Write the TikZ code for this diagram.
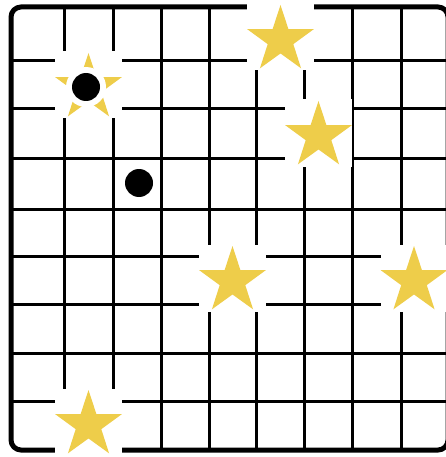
\documentclass[tikz,border=0pt]{standalone}
\usetikzlibrary{shapes.geometric}
\definecolor{StarGold}{HTML}{EECD4A}
\tikzset{
    % Grid lines
    gridline/.style={
        line width=3pt,
        draw=black
    },
    % Outer frame
    frameline/.style={
        line width=5pt,
        draw=black,
        rounded corners=10pt
    },
    % White patch behind each star
    starpatch/.style={
        rectangle,
        fill=white,
        minimum size=67pt,
        inner sep=0pt
    },
    % Gold star
    goldstar/.style={
        star,
        star points=5,
        star point ratio=2.6,
        fill=StarGold,
        minimum size=70pt,
        inner sep=0pt
    },
    % White ring round a dot
    halo/.style={
        circle,
        fill=white,
        minimum size=40pt,
        inner sep=0pt
    },
    % Black dot
    marker/.style={
        circle,
        fill=black,
        minimum size=28pt,
        inner sep=0pt
    }
}
\begin{document}
\begin{tikzpicture}[x=1pt, y=-1pt]
    \useasboundingbox (0,0) rectangle (446,457);

    % Grid
    \foreach \gx in {64,113,161,209,256,304,352,401}
        \draw[gridline] (\gx,7) -- (\gx,450);
    \foreach \gy in {61,109,159,209,256,304,353,401}
        \draw[gridline] (12,\gy) -- (447,\gy);
    \draw[frameline] (11,7) rectangle (448,450);

    % Stars
    \foreach \sx/\sy/\sname in {88.5/88/sa, 280.5/40/sb, 318.5/136/sc,
                                232.5/281/sd, 414/281/se, 88.5/425/sf} {
        \node[starpatch] (\sname-patch) at (\sx,\sy-3) {};
        \node[goldstar] (\sname) at (\sx,\sy) {};
    }

    % Dots
    \node[halo] (ringa) at (86,87) {};
    \node[marker] (dota) at (86,87) {};
    \node[marker] (dotb) at (139,183) {};
\end{tikzpicture}
\end{document}
